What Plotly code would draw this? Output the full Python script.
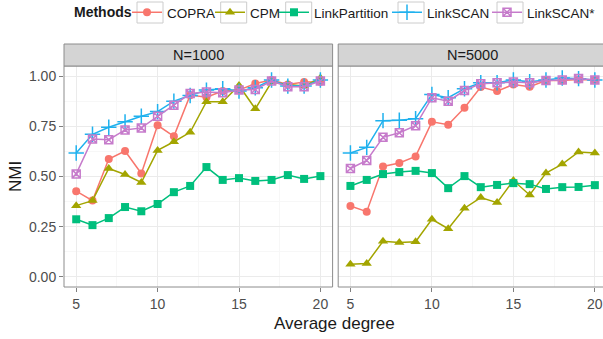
import plotly.graph_objects as go

x_vals = list(range(5, 21))
methods = ["COPRA", "CPM", "LinkPartition", "LinkSCAN", "LinkSCAN*"]
panels = ["N=1000", "N=5000"]

nmi_1000 = {
    "COPRA": [0.427, 0.38, 0.587, 0.627, 0.515, 0.755, 0.70, 0.905, 0.895, 0.925, 0.93, 0.963, 0.98, 0.958, 0.97, 0.972],
    "CPM": [0.355, 0.38, 0.54, 0.51, 0.47, 0.63, 0.673, 0.72, 0.872, 0.872, 0.953, 0.837, 0.97, 0.958, 0.95, 0.99],
    "LinkPartition": [0.287, 0.258, 0.293, 0.348, 0.327, 0.363, 0.422, 0.453, 0.547, 0.483, 0.492, 0.478, 0.483, 0.507, 0.488, 0.502],
    "LinkSCAN": [0.617, 0.71, 0.745, 0.772, 0.80, 0.823, 0.875, 0.903, 0.93, 0.937, 0.925, 0.942, 0.98, 0.95, 0.95, 0.98],
    "LinkSCAN*": [0.513, 0.687, 0.683, 0.732, 0.742, 0.80, 0.855, 0.913, 0.92, 0.917, 0.93, 0.933, 0.975, 0.947, 0.947, 0.975],
}
nmi_5000 = {
    "COPRA": [0.353, 0.325, 0.55, 0.567, 0.60, 0.772, 0.758, 0.842, 0.945, 0.925, 0.958, 0.947, 0.978, 0.978, 0.983, 0.98],
    "CPM": [0.063, 0.067, 0.178, 0.172, 0.175, 0.287, 0.24, 0.342, 0.395, 0.37, 0.48, 0.408, 0.517, 0.562, 0.622, 0.617],
    "LinkPartition": [0.453, 0.483, 0.512, 0.522, 0.528, 0.517, 0.442, 0.502, 0.447, 0.458, 0.467, 0.462, 0.438, 0.447, 0.448, 0.457],
    "LinkSCAN": [0.617, 0.645, 0.778, 0.78, 0.788, 0.908, 0.892, 0.937, 0.967, 0.967, 0.98, 0.972, 0.98, 0.99, 0.987, 0.98],
    "LinkSCAN*": [0.54, 0.58, 0.695, 0.718, 0.753, 0.892, 0.875, 0.928, 0.962, 0.967, 0.97, 0.967, 0.978, 0.98, 0.988, 0.98],
}
x_ticks = [5, 10, 15, 20]
y_ticks = [0.0, 0.25, 0.5, 0.75, 1.0]

colors = {"COPRA": "#F8766D", "CPM": "#A3A500", "LinkPartition": "#00BF7D",
          "LinkSCAN": "#1FB1EE", "LinkSCAN*": "#C67BCB"}
symbols = {"COPRA": "circle", "CPM": "triangle-up", "LinkPartition": "square",
           "LinkSCAN": "cross-thin-open", "LinkSCAN*": "square-x-open"}
sizes = {"COPRA": 8, "CPM": 9, "LinkPartition": 8, "LinkSCAN": 11, "LinkSCAN*": 8}

FONT = "Liberation Sans, Arial, sans-serif"
W, H = 603, 339
ml, mr, mt, mb = 64, 0, 66, 52
pw = W - ml - mr
ph = H - mt - mb
d1 = [0, (332.6 - ml) / pw]
d2 = [(338.2 - ml) / pw, 1]

def px2x(px):
    return (px - ml) / pw

def py2y(py):
    return (H - mb - py) / ph

# legend layout (pixel text starts / key boxes), one legend per method
legend_text_x = [167, 250, 314, 427, 527]
key_box_x = [137, 220.7, 285.7, 398, 497]
legend_ids = ["legend", "legend2", "legend3", "legend4", "legend5"]

fig = go.Figure()
for i, data in enumerate([nmi_1000, nmi_5000]):
    xa = "x" if i == 0 else "x2"
    ya = "y" if i == 0 else "y2"
    for j, m in enumerate(methods):
        mk = dict(symbol=symbols[m], size=sizes[m], color=colors[m])
        if symbols[m].endswith("open"):
            mk["line"] = dict(color=colors[m], width=1.5)
        fig.add_trace(go.Scatter(
            x=x_vals, y=data[m], mode="lines+markers", name=m,
            line=dict(color=colors[m], width=1.5), marker=mk,
            xaxis=xa, yaxis=ya, showlegend=(i == 0), legend=legend_ids[j],
            cliponaxis=False))

grid = "#EBEBEB"
tickfont = dict(family=FONT, size=14, color="#4D4D4D")
axis_common = dict(showgrid=True, gridcolor=grid, gridwidth=1, zeroline=False,
                   showline=False, tickfont=tickfont, automargin=False,
                   minor=dict(showgrid=True, gridcolor="#F7F7F7", gridwidth=1))

layout = dict(
    width=W, height=H, margin=dict(l=ml, r=mr, t=mt, b=mb, autoexpand=False),
    paper_bgcolor="white", plot_bgcolor="white",
    font=dict(family=FONT, color="#1a1a1a"),
    xaxis=dict(domain=d1, range=[4.25, 20.75], tickvals=x_ticks, ticks="outside", ticklen=4,
               tickcolor="#7F7F7F", **axis_common),
    xaxis2=dict(domain=d2, range=[4.25, 20.5], tickvals=x_ticks, ticks="outside", ticklen=4,
                tickcolor="#7F7F7F", anchor="y2", **axis_common),
    yaxis=dict(range=[-0.05, 1.05], tickvals=y_ticks, tickformat=".2f", ticks="outside", ticklen=4,
               tickcolor="#7F7F7F", **axis_common),
    yaxis2=dict(range=[-0.05, 1.05], tickvals=y_ticks, anchor="x2", showticklabels=False, ticks="",
                **axis_common),
    showlegend=True,
)
for j, lid in enumerate(legend_ids):
    layout[lid] = dict(orientation="h", xref="container", yref="container",
                       x=(legend_text_x[j] - 40) / W, xanchor="left",
                       y=1 - 12.5 / H, yanchor="middle", bgcolor="rgba(0,0,0,0)", borderwidth=0,
                       font=dict(family=FONT, size=13.5, color="#1a1a1a"), itemwidth=30)
fig.update_layout(**layout)
fig.update_xaxes(minor=dict(dtick=2.5, tick0=5))
fig.update_yaxes(minor=dict(dtick=0.125, tick0=0))

shapes = []
border = "#8C8C8C"
panel_x = [(64.0, 332.6), (338.2, 610)]
for (a, b) in panel_x:
    shapes.append(dict(type="rect", xref="paper", yref="paper", x0=px2x(a), x1=px2x(b),
                       y0=0, y1=1, line=dict(color=border, width=1), fillcolor="rgba(0,0,0,0)",
                       layer="above"))
    shapes.append(dict(type="rect", xref="paper", yref="paper", x0=px2x(a), x1=px2x(b),
                       y0=1, y1=py2y(44), line=dict(color=border, width=1), fillcolor="#D4D4D4"))
for bx in key_box_x:
    shapes.append(dict(type="rect", xref="paper", yref="paper", x0=px2x(bx), x1=px2x(bx + 26),
                       y0=py2y(23), y1=py2y(2), line=dict(color="#CCCCCC", width=1),
                       fillcolor="white"))
fig.update_layout(shapes=shapes)

ann = []
for (a, b), label in zip([(64.0, 332.6), (338.2, 606.6)], panels):
    ann.append(dict(text=label, x=px2x((a + b) / 2), y=py2y(55.3), xref="paper", yref="paper",
                    showarrow=False, font=dict(family=FONT, size=14.5, color="#1a1a1a"),
                    xanchor="center", yanchor="middle"))
ann.append(dict(text="<b>Methods</b>", x=px2x(73), y=py2y(12.5), xref="paper", yref="paper",
                showarrow=False, font=dict(family=FONT, size=14, color="#1a1a1a"),
                xanchor="left", yanchor="middle", xshift=-1))
ann.append(dict(text="Average degree", x=px2x(334.7), y=py2y(323), xref="paper", yref="paper",
                showarrow=False, font=dict(family=FONT, size=17, color="#1a1a1a"),
                xanchor="center", yanchor="middle"))
ann.append(dict(text="NMI", x=px2x(15), y=py2y(177), xref="paper", yref="paper", textangle=-90,
                showarrow=False, font=dict(family=FONT, size=17, color="#1a1a1a"),
                xanchor="center", yanchor="middle"))
fig.update_layout(annotations=ann)

fig.write_html("out.html", config={"displayModeBar": False},
               post_script="document.body.style.margin='0px';")
